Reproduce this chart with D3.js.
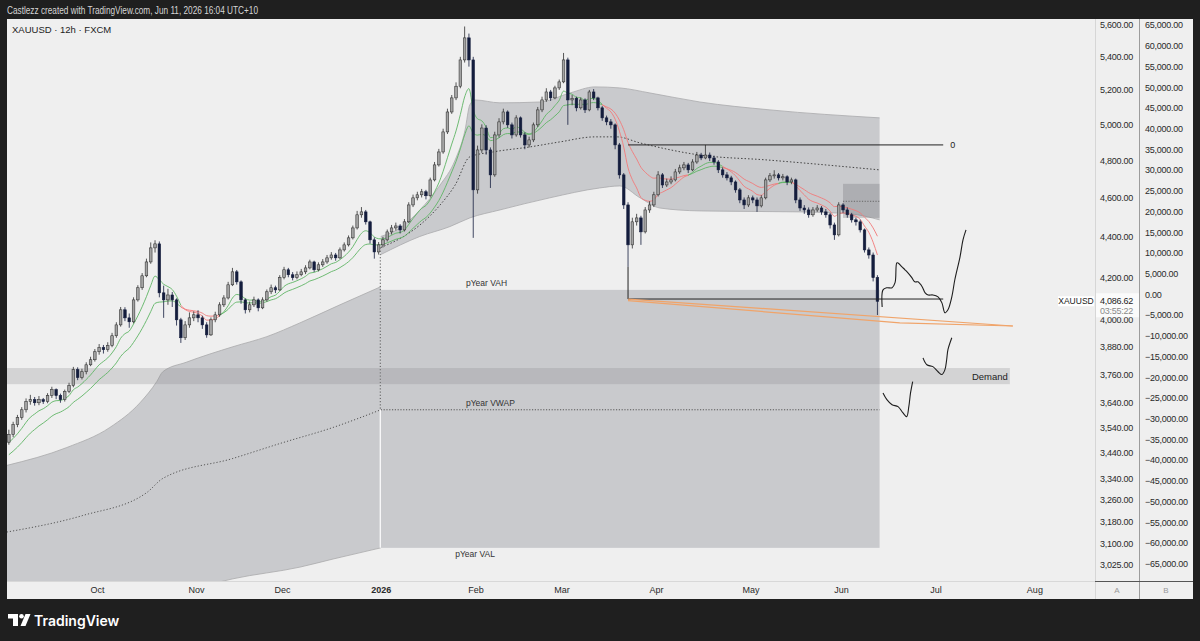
<!DOCTYPE html>
<html><head><meta charset="utf-8">
<script src="https://cdn.jsdelivr.net/npm/d3@7"></script>
<style>html,body{margin:0;padding:0;background:#1f1f1f;overflow:hidden}</style>
</head><body>
<svg id="c" width="1200" height="641"></svg>
<script>
// ================= DATA =================
const headerText = "Castlezz created with TradingView.com, Jun 11, 2026 16:04 UTC+10";
const symbolTitle = "XAUUSD · 12h · FXCM";
const symbolName = "XAUUSD";
const countdown = "03:55:22";
const firstDay = "2025-09-02";
const lastAxisDay = "2026-09-30";

// daily candles [open, high, low, close] from 2025-09-02 to 2026-06-11 (trading days)
const candles = [
[3480,3530,3470,3510],[3510,3562,3500,3550],[3550,3590,3540,3579],[3579,3622,3570,3611],[3611,3658,3600,3645],
[3645,3673,3632,3653],[3653,3664,3628,3640],[3640,3668,3630,3653],[3653,3660,3635,3645],[3645,3680,3638,3670],
[3670,3707,3660,3695],[3695,3700,3655,3670],[3670,3678,3640,3653],[3653,3695,3645,3687],[3687,3724,3680,3712],
[3712,3792,3705,3780],[3780,3790,3735,3746],[3746,3784,3738,3771],[3771,3812,3760,3801],[3801,3836,3795,3823],
[3823,3870,3815,3858],[3858,3892,3845,3876],[3876,3888,3850,3867],[3867,3900,3858,3885],[3885,3942,3878,3929],
[3929,3990,3920,3978],[3978,4060,3970,4047],[4047,4059,3995,4010],[4010,4030,3965,3992],[3992,4105,3985,4093],
[4093,4162,4085,4150],[4150,4220,4140,4207],[4207,4290,4200,4274],[4274,4370,4265,4343],[4343,4381,4320,4363],
[4363,4375,4105,4126],[4126,4160,4010,4093],[4093,4145,4070,4116],[4116,4130,4060,4093],[4093,4100,3975,4001],
[4001,4010,3897,3920],[3920,3995,3910,3978],[3978,4035,3965,4010],[4010,4040,3995,4024],[4024,4045,3990,4010],
[4010,4020,3960,3978],[3978,3990,3920,3933],[3933,4012,3928,4001],[4001,4038,3990,4024],[4024,4082,4015,4070],
[4070,4115,4060,4102],[4102,4178,4095,4164],[4164,4245,4158,4226],[4226,4235,4165,4178],[4178,4185,4075,4093],
[4093,4100,4030,4047],[4047,4085,4035,4070],[4070,4108,4060,4093],[4093,4100,4040,4056],[4056,4105,4050,4093],
[4093,4142,4085,4131],[4131,4165,4120,4150],[4150,4160,4125,4140],[4140,4210,4135,4198],[4198,4250,4190,4236],
[4236,4245,4200,4212],[4212,4225,4185,4198],[4198,4228,4190,4212],[4212,4240,4205,4226],[4226,4258,4215,4245],
[4245,4285,4238,4274],[4274,4280,4225,4236],[4236,4272,4228,4260],[4260,4288,4250,4274],[4274,4308,4265,4294],
[4294,4322,4285,4308],[4308,4318,4280,4294],[4294,4345,4288,4333],[4333,4370,4325,4358],[4358,4405,4350,4393],
[4393,4455,4385,4443],[4443,4530,4435,4510],[4510,4550,4495,4525],[4525,4535,4460,4474],[4474,4480,4365,4383],
[4383,4395,4290,4323],[4323,4372,4310,4358],[4358,4398,4345,4383],[4383,4435,4375,4423],[4423,4458,4410,4443],
[4443,4470,4430,4453],[4453,4462,4415,4433],[4433,4488,4425,4474],[4474,4575,4468,4561],[4561,4615,4550,4598],
[4598,4630,4585,4614],[4614,4645,4600,4630],[4630,4640,4590,4609],[4609,4705,4600,4693],[4693,4790,4685,4774],
[4774,4862,4765,4845],[4845,4975,4835,4957],[4957,5090,4945,5071],[5071,5170,5060,5153],[5153,5245,5140,5222],
[5222,5400,5210,5381],[5381,5590,5365,5518],[5518,5545,5340,5381],[5381,5400,4393,4640],[4640,4880,4620,4856],
[4856,5000,4840,4979],[4979,4995,4830,4856],[4856,4870,4650,4720],[4720,4958,4710,4940],[4940,5035,4925,5014],
[5014,5090,5000,5071],[5071,5080,4980,4997],[4997,5010,4920,4940],[4940,5052,4930,5037],[5037,5045,4925,4940],
[4940,4955,4860,4884],[4884,4930,4870,4912],[4912,5010,4900,4997],[4997,5100,4985,5083],[5083,5160,5070,5141],
[5141,5210,5130,5188],[5188,5200,5135,5153],[5153,5225,5145,5212],[5212,5262,5200,5248],[5248,5424,5240,5381],
[5381,5395,4997,5141],[5141,5170,5110,5150],[5150,5160,5075,5095],[5095,5155,5085,5141],[5141,5150,5065,5083],
[5083,5200,5075,5188],[5188,5205,5140,5153],[5153,5160,5080,5095],[5095,5105,5020,5037],[5037,5050,4995,5014],
[5014,5030,4975,4997],[4997,5005,4860,4884],[4884,4895,4700,4720],[4720,4730,4540,4561],[4561,4575,4250,4358],
[4358,4495,4340,4474],[4474,4515,4455,4494],[4494,4505,4358,4423],[4423,4550,4415,4535],[4535,4580,4520,4561],
[4561,4630,4550,4614],[4614,4740,4605,4720],[4720,4730,4650,4666],[4666,4700,4655,4682],[4682,4712,4670,4693],
[4693,4752,4685,4736],[4736,4775,4725,4758],[4758,4790,4745,4774],[4774,4785,4730,4747],[4747,4805,4740,4790],
[4790,4845,4780,4828],[4828,4840,4800,4812],[4812,4884,4805,4828],[4828,4842,4795,4812],[4812,4825,4775,4790],
[4790,4800,4730,4747],[4747,4760,4705,4720],[4720,4735,4690,4704],[4704,4715,4665,4682],[4682,4690,4625,4640],
[4640,4650,4570,4587],[4587,4600,4540,4561],[4561,4612,4550,4598],[4598,4610,4570,4587],[4587,4600,4525,4556],
[4556,4612,4548,4598],[4598,4705,4590,4693],[4693,4730,4682,4715],[4715,4745,4700,4720],[4720,4730,4690,4704],
[4704,4725,4690,4710],[4710,4718,4665,4682],[4682,4705,4670,4693],[4693,4700,4570,4587],[4587,4600,4530,4545],
[4545,4560,4515,4535],[4535,4548,4495,4510],[4510,4550,4500,4535],[4535,4560,4525,4545],[4545,4555,4510,4525],
[4525,4540,4495,4510],[4510,4520,4440,4458],[4458,4470,4383,4408],[4408,4575,4400,4561],[4561,4570,4520,4535],
[4535,4548,4495,4510],[4510,4520,4470,4484],[4484,4495,4455,4474],[4474,4485,4420,4433],[4433,4440,4320,4333],
[4333,4345,4290,4308],[4308,4320,4180,4198],[4198,4210,4023,4086.62]
];

// moving averages (periods in daily bars) and their starting values
const emaPeriods = [8, 16];
const emaSeed = [3470, 3420];

// month ticks [first trading day, label]
const monthTicks = [["2025-10-01","Oct"],["2025-11-03","Nov"],["2025-12-01","Dec"],["2026-01-01","2026"],
  ["2026-02-02","Feb"],["2026-03-02","Mar"],["2026-04-01","Apr"],["2026-05-01","May"],["2026-06-01","Jun"],
  ["2026-07-01","Jul"],["2026-08-03","Aug"]];
const priceTicks = [5600,5400,5200,5000,4800,4600,4400,4200,4000,3880,3760,3640,3540,3440,3340,3260,3180,3100,3025];
const oscTicks = [65000,60000,55000,50000,45000,40000,35000,30000,25000,20000,15000,10000,5000,0,
  -5000,-10000,-15000,-20000,-25000,-30000,-35000,-40000,-45000,-50000,-55000,-60000,-65000];
const paneLabels = ["A","B"];

// previous-year anchored VWAP bands [bar index, price]
const pYearUpper = [[0,3389],[14,3459],[24,3539],[31,3640],[34.9,3729],[36.3,3771],[41.9,3813],[52.6,3880],[60.5,3925],[68.2,3987],[77.5,4070],[87,4155]];
const pYearLower = [[0,2780],[21.7,2860],[44.95,2951],[52.6,2978],[68.2,3018],[75.9,3046],[87,3085]];
const pYearVwapLine = [[0,3141],[17.7,3201],[32.6,3286],[36.3,3339],[52.6,3416],[63.6,3475],[75.9,3539],[87,3611]];
const pYearVAH = 4140, pYearVWAP = 3611, pYearVAL = 3085;
const anchorBar = 87, lastBarEnd = 203;

// year-to-date anchored VWAP and bands [bar index, price]
const ytdUpper = [[87,4400],[91.5,4443],[96.1,4535],[100.8,4666],[104.3,4801],[106.6,4968],[107.7,5112],[108.9,5141],[114.7,5124],[124,5129],[131,5182],[136.8,5218],[142.6,5212],[149.6,5182],[161.2,5129],[177.5,5083],[203,5037]];
const ytdLower = [[87,4310],[96.1,4400],[103.1,4450],[107.7,4494],[114.7,4535],[126.3,4598],[137.9,4650],[142.6,4661],[147.3,4598],[151.9,4545],[161.2,4530],[184.5,4525],[196.1,4515],[203,4484]];
const ytdVwap = [[87,4345],[91.5,4390],[96.1,4458],[100.8,4561],[104.3,4666],[107.7,4818],[113.1,4845],[121.7,4873],[128.7,4901],[136.8,4929],[141.9,4929],[147.3,4895],[161.2,4828],[176.8,4801],[203,4747]];

// drawings
const demandZone = {from:-2, to:233.3, low:3718, high:3787, label:"Demand"};
const supplyBox = {from:194.5, to:203, low:4494, high:4672, mid:4580};
const fibTool = {from:144.5, to:217.8, top:4884, bottom:4097, lowWick:4250, label:"0"};
const orangeUpper = [[144.5,4097],[234,3973]];
const orangeLower = [[144.5,4090],[207.7,3987],[234,3973]];
const pathMain = [[203.6,4060],[203.8,4140],[204.7,4150],[205.9,4150],[206.6,4174],[207.0,4269],[207.3,4269],[208.2,4250],[208.9,4236],[209.6,4221],[210.5,4198],[211.2,4178],[211.9,4178],[212.9,4155],[213.6,4126],[214.3,4116],[215.4,4116],[216.6,4107],[217.5,4079],[218.2,4033],[218.9,4047],[219.8,4107],[220.5,4188],[221.7,4298],[222.4,4383],[223.1,4433]];
const pathMid = [[213.1,3831],[214.0,3801],[215.4,3793],[216.6,3771],[217.5,3759],[218.2,3780],[218.6,3823],[218.9,3867],[219.8,3920]];
const pathLow = [[203.8,3681],[204.7,3653],[205.9,3632],[207.3,3624],[208.4,3599],[209.3,3583],[209.8,3624],[210.2,3681],[210.7,3729]];

// ================= CHART =================
const W = 1200, H = 641;
const P = {l:7, r:1095, t:19, b:581};
const FONT = "Liberation Sans, Arial, sans-serif";

const parse = d3.utcParse("%Y-%m-%d"), fmtDay = d3.utcFormat("%Y-%m-%d");
const days = [];
for (let d = parse(firstDay); d <= parse(lastAxisDay); d = d3.utcDay.offset(d, 1)) {
  const w = d.getUTCDay(); if (w !== 0 && w !== 6) days.push(fmtDay(d));
}
const dayIndex = new Map(days.map((d, i) => [d, i]));

const x = d3.scaleLinear().domain([0, 253.1]).range([6.7, P.r]);
const y = d3.scaleLog().domain([2970.6, 5638]).range([P.b, P.t]);
const yB = d3.scaleLinear().domain([-65000, 65000]).range([563.7, 25]);

const svg = d3.select("#c");
svg.append("rect").attr("width", W).attr("height", H).attr("fill", "#1f1f1f");
svg.append("rect").attr("x", 7).attr("y", 19).attr("width", 1186).attr("height", 580).attr("fill", "#efefef");

svg.append("text").attr("x", 7).attr("y", 13.5).attr("fill", "#d6d6d6")
  .attr("font-family", FONT).attr("font-size", 10.5).attr("textLength", 251).attr("lengthAdjust", "spacingAndGlyphs")
  .text(headerText);

svg.append("defs").append("clipPath").attr("id", "clip")
  .append("rect").attr("x", P.l).attr("y", P.t).attr("width", P.r - P.l).attr("height", P.b - P.t);
const g = svg.append("g").attr("clip-path", "url(#clip)");

const lineM = d3.line().x(d => x(d[0])).y(d => y(d[1])).curve(d3.curveMonotoneX);
function bandPath(up, lo) {
  return lineM(up) + "L" + lineM(lo.slice().reverse()).slice(1) + "Z";
}
const BAND = "#c9cacd";

// previous-year band
g.append("path").attr("d", bandPath(pYearUpper, pYearLower)).attr("fill", BAND);
g.append("path").attr("d", lineM(pYearUpper)).attr("fill", "none").attr("stroke", "#a9a9ab").attr("stroke-width", 0.8);
g.append("path").attr("d", lineM(pYearLower)).attr("fill", "none").attr("stroke", "#a9a9ab").attr("stroke-width", 0.8);
g.append("path").attr("d", lineM(pYearVwapLine)).attr("fill", "none").attr("stroke", "#555").attr("stroke-width", 1).attr("stroke-dasharray", "1.2,2");

// value area rectangle
g.append("rect").attr("x", x(anchorBar)).attr("y", y(pYearVAH)).attr("width", x(lastBarEnd) - x(anchorBar))
  .attr("height", y(pYearVAL) - y(pYearVAH)).attr("fill", BAND);
g.append("line").attr("x1", x(anchorBar)).attr("x2", x(lastBarEnd)).attr("y1", y(pYearVWAP)).attr("y2", y(pYearVWAP))
  .attr("stroke", "#555").attr("stroke-dasharray", "1.2,1.6");
g.append("line").attr("x1", x(anchorBar) - 0.5).attr("x2", x(anchorBar) - 0.5).attr("y1", y(pYearVWAP)).attr("y2", y(pYearVAL))
  .attr("stroke", "#fafafa").attr("stroke-width", 1.3);
g.append("line").attr("x1", x(anchorBar) - 0.5).attr("x2", x(anchorBar) - 0.5).attr("y1", y(ytdVwap[0][1])).attr("y2", y(pYearVWAP))
  .attr("stroke", "#555").attr("stroke-dasharray", "1.2,2");

// YTD band
g.append("path").attr("d", bandPath(ytdUpper, ytdLower)).attr("fill", BAND);
g.append("path").attr("d", lineM(ytdUpper)).attr("fill", "none").attr("stroke", "#aaaaac").attr("stroke-width", 0.8);
g.append("path").attr("d", lineM(ytdLower)).attr("fill", "none").attr("stroke", "#aaaaac").attr("stroke-width", 0.8);
g.append("path").attr("d", lineM(ytdVwap)).attr("fill", "none").attr("stroke", "#444").attr("stroke-width", 1).attr("stroke-dasharray", "1.5,2");

// labels of value area
const lab = (t, p, dy, txt) => g.append("text").attr("x", x(t)).attr("y", y(p) + dy).attr("font-family", FONT)
  .attr("font-size", 8.5).attr("fill", "#333").text(txt);
lab(106.8, pYearVAH, -4, "pYear VAH");
lab(106.8, pYearVWAP, -3.5, "pYear VWAP");
lab(104.3, pYearVAL, 9.5, "pYear VAL");

// demand zone
g.append("rect").attr("x", x(demandZone.from)).attr("y", y(demandZone.high)).attr("width", x(demandZone.to) - x(demandZone.from))
  .attr("height", y(demandZone.low) - y(demandZone.high)).attr("fill", "rgba(140,140,142,0.28)");
g.append("text").attr("x", x(demandZone.to) - 2).attr("y", (y(demandZone.high) + y(demandZone.low)) / 2 + 3.5)
  .attr("text-anchor", "end").attr("font-family", FONT).attr("font-size", 9.5).attr("fill", "#222").text(demandZone.label);

// box
g.append("rect").attr("x", x(supplyBox.from)).attr("y", y(supplyBox.high)).attr("width", x(supplyBox.to) - x(supplyBox.from))
  .attr("height", y(supplyBox.low) - y(supplyBox.high)).attr("fill", "rgba(110,110,115,0.3)");
g.append("line").attr("x1", x(supplyBox.from)).attr("x2", x(supplyBox.to)).attr("y1", y(supplyBox.mid)).attr("y2", y(supplyBox.mid))
  .attr("stroke", "#666").attr("stroke-dasharray", "1.2,1.5");

// EMAs
const closes = candles.map(d => d[3]);
function ema(period, seed) { const a = 2 / (period + 1); let e = seed; return closes.map(c => (e = e + a * (c - e))); }
const fast = ema(emaPeriods[0], emaSeed[0]);
const slow = ema(emaPeriods[1], emaSeed[1]);
const runs = [];
for (let i = 1; i < closes.length; i++) {
  const up = fast[i] >= slow[i];
  if (!runs.length || runs[runs.length - 1].up !== up) runs.push({up, s: i - 1, e: i});
  else runs[runs.length - 1].e = i;
}
const lineE = d3.line().x(d => x(d[0] + 0.5)).y(d => y(d[1])).curve(d3.curveMonotoneX);
runs.forEach(r => {
  [fast, slow].forEach(arr => {
    const pts = d3.range(r.s, r.e + 1).map(i => [i, arr[i]]);
    g.append("path").attr("d", lineE(pts)).attr("fill", "none")
      .attr("stroke", r.up ? "#5fb565" : "#f27a7a").attr("stroke-width", 1).attr("opacity", 0.9);
  });
});

// candles
const cg = g.append("g");
candles.forEach((d, i) => {
  const [o, h, l, c] = d; const up = c >= o;
  const cx = x(i + 0.5);
  const col = up ? "#2e2e2e" : "#141d3d";
  cg.append("line").attr("x1", cx).attr("x2", cx).attr("y1", y(h)).attr("y2", y(l)).attr("stroke", col).attr("stroke-width", 0.8);
  const yt = y(Math.max(o, c)), yb = y(Math.min(o, c));
  cg.append("rect").attr("x", cx - 1.3).attr("y", yt).attr("width", 2.6).attr("height", Math.max(1, yb - yt))
    .attr("fill", up ? "#a3a3a3" : "#141d3d").attr("stroke", col).attr("stroke-width", 0.55);
});

// fib-like tool lines
g.append("line").attr("x1", x(fibTool.from)).attr("x2", x(fibTool.to)).attr("y1", y(fibTool.top)).attr("y2", y(fibTool.top)).attr("stroke", "#222").attr("stroke-width", 1);
g.append("line").attr("x1", x(fibTool.from)).attr("x2", x(fibTool.to)).attr("y1", y(fibTool.bottom)).attr("y2", y(fibTool.bottom)).attr("stroke", "#222").attr("stroke-width", 1);
g.append("line").attr("x1", x(fibTool.from)).attr("x2", x(fibTool.from)).attr("y1", y(fibTool.lowWick)).attr("y2", y(fibTool.bottom)).attr("stroke", "#222").attr("stroke-width", 1);
g.append("text").attr("x", x(fibTool.to) + 7).attr("y", y(fibTool.top) + 3).attr("font-family", FONT).attr("font-size", 9).attr("fill", "#222").text(fibTool.label);

// orange wedge
const lineL = d3.line().x(d => x(d[0])).y(d => y(d[1]));
[orangeUpper, orangeLower].forEach(p => g.append("path").attr("d", lineL(p)).attr("fill", "none").attr("stroke", "#f0a46a").attr("stroke-width", 1.2));

// hand-drawn projections
const lineC = d3.line().x(d => x(d[0])).y(d => y(d[1])).curve(d3.curveCatmullRom.alpha(0.5));
[pathMain, pathMid, pathLow].forEach(p => g.append("path").attr("d", lineC(p)).attr("fill", "none").attr("stroke", "#1e1e1e").attr("stroke-width", 1.1));

// title
svg.append("text").attr("x", 12).attr("y", 33).attr("font-family", FONT).attr("font-size", 9.5).attr("fill", "#222").text(symbolTitle);

// ===== axes =====
svg.append("line").attr("x1", P.r + 0.5).attr("x2", P.r + 0.5).attr("y1", 19).attr("y2", 599).attr("stroke", "#d6d6d6");
svg.append("line").attr("x1", 1139.5).attr("x2", 1139.5).attr("y1", 19).attr("y2", 599).attr("stroke", "#9c9c9c");
svg.append("line").attr("x1", 7).attr("x2", P.r).attr("y1", P.b + 0.5).attr("y2", P.b + 0.5).attr("stroke", "#d8d8d8");
svg.append("line").attr("x1", P.r).attr("x2", 1193).attr("y1", P.b + 0.5).attr("y2", P.b + 0.5).attr("stroke", "#555");

const styleAxis = (sel, size) => { sel.select(".domain").remove(); sel.selectAll("text").attr("font-family", FONT).attr("font-size", size).attr("fill", "#2a2a2a"); };

const axA = svg.append("g").attr("transform", `translate(${P.r},0)`)
  .call(d3.axisRight(y).tickValues(priceTicks).tickFormat(d3.format(",.2f")).tickSize(0).tickPadding(5));
styleAxis(axA, 9); axA.selectAll("text").attr("letter-spacing", -0.25);

const axB = svg.append("g").attr("transform", `translate(1140,0)`)
  .call(d3.axisRight(yB).tickValues(oscTicks).tickFormat(d3.format(",.2f")).tickSize(0).tickPadding(5));
styleAxis(axB, 9); axB.selectAll("text").attr("letter-spacing", -0.25);

const monthIdx = monthTicks.map(m => dayIndex.get(m[0]));
const axT = svg.append("g").attr("transform", `translate(0,${P.b})`)
  .call(d3.axisBottom(x).tickValues(monthIdx).tickFormat((d, i) => monthTicks[i][1]).tickSize(0).tickPadding(6));
styleAxis(axT, 9);
axT.selectAll("text").attr("font-weight", (d, i) => monthTicks[i][1] === "2026" ? "bold" : null);

svg.selectAll(".paneLab").data(paneLabels).join("text").attr("class", "paneLab")
  .attr("x", (d, i) => i ? 1166 : 1117).attr("y", 593).attr("text-anchor", "middle")
  .attr("font-family", FONT).attr("font-size", 8).attr("fill", "#999").text(d => d);

// current price labels
const last = candles[candles.length - 1][3];
svg.append("rect").attr("x", 1058).attr("y", y(last) - 5).attr("width", 36).attr("height", 10).attr("fill", "#ffffff");
svg.append("text").attr("x", 1076).attr("y", y(last) + 3.2).attr("text-anchor", "middle").attr("font-family", FONT)
  .attr("font-size", 8.5).attr("fill", "#222").text(symbolName);
svg.append("rect").attr("x", P.r + 1).attr("y", y(last) - 8).attr("width", 43).attr("height", 24).attr("fill", "#fbfbfb");
svg.append("text").attr("x", 1100).attr("y", y(last) + 3).attr("font-family", FONT).attr("font-size", 9).attr("letter-spacing", -0.25)
  .attr("fill", "#222").text(d3.format(",.2f")(last));
svg.append("text").attr("x", 1100).attr("y", y(last) + 13).attr("font-family", FONT).attr("font-size", 9).attr("letter-spacing", -0.25)
  .attr("fill", "#8a8a8a").text(countdown);

// logo
const lg = svg.append("g");
lg.append("rect").attr("x", 8).attr("y", 614).attr("width", 10).attr("height", 4.5).attr("fill", "#fff");
lg.append("rect").attr("x", 13).attr("y", 614).attr("width", 5).attr("height", 12).attr("fill", "#fff");
lg.append("circle").attr("cx", 21.5).attr("cy", 616.3).attr("r", 2.3).attr("fill", "#fff");
lg.append("path").attr("d", "M20.5,626 L25.5,626 L30.5,614 L25.5,614 Z").attr("fill", "#fff");
svg.append("text").attr("x", 34).attr("y", 625.5).attr("font-family", "Inter, Roboto, sans-serif").attr("font-weight", 600)
  .attr("font-size", 14).attr("fill", "#ffffff").text("TradingView");
</script>
</body></html>
